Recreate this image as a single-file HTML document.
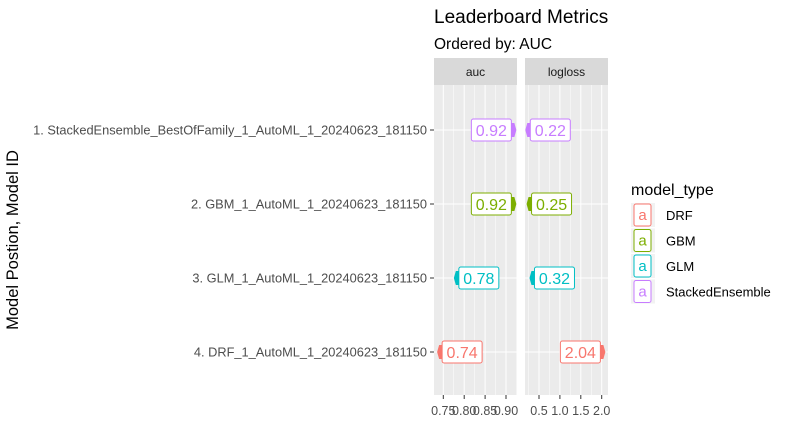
<!DOCTYPE html>
<html><head><meta charset="utf-8"><style>
body{margin:0;background:#fff;font-family:"Liberation Sans",Arial,sans-serif}
svg{display:block}
</style></head><body>
<svg id="c" width="787" height="446" font-family="Liberation Sans, Arial, sans-serif"></svg>
<script>
const models=["1. StackedEnsemble_BestOfFamily_1_AutoML_1_20240623_181150","2. GBM_1_AutoML_1_20240623_181150","3. GLM_1_AutoML_1_20240623_181150","4. DRF_1_AutoML_1_20240623_181150"];
const types=["StackedEnsemble","GBM","GLM","DRF"];
const aucVals=[0.92,0.92,0.78,0.74];
const loglossVals=[0.22,0.25,0.32,2.04];
const aucTicks=[0.75,0.80,0.85,0.90];
const aucTickLabels=["0.75","0.80","0.85","0.90"];
const llTicks=[0.5,1.0,1.5,2.0];
const llTickLabels=["0.5","1.0","1.5","2.0"];
const legendTypes=["DRF","GBM","GLM","StackedEnsemble"];
const colors={DRF:"#F8766D",GBM:"#7CAE00",GLM:"#00BFC4",StackedEnsemble:"#C77CFF"};
const NS="http://www.w3.org/2000/svg";
const svg=document.getElementById('c');
function mk(t,a,p){const e=document.createElementNS(NS,t);for(const k in a)e.setAttribute(k,a[k]);(p||svg).appendChild(e);return e;}
const plotTop=85,plotBot=395;
const rowY=i=>130+i*74;
const panels=[
 {name:"auc",x0:434,x1:517,vals:aucVals,ticks:aucTicks,tl:aucTickLabels,sx:v=>443.3+(v-0.75)/0.05*20.9,mid:0.83},
 {name:"logloss",x0:525,x1:608,vals:loglossVals,ticks:llTicks,tl:llTickLabels,sx:v=>539+(v-0.5)/0.5*20.9,mid:1.1}
];
let t=mk('text',{x:434,y:23,'font-size':19,fill:'#000'});t.textContent="Leaderboard Metrics";


t=mk('text',{x:434,y:49,'font-size':15.5,fill:'#000'});t.textContent="Ordered by: AUC";


t=mk('text',{x:18,y:240,'font-size':16.5,fill:'#000','text-anchor':'middle',transform:'rotate(-90 18 240)'});t.textContent="Model Postion, Model ID";


models.forEach((m,i)=>{
 const l=mk('text',{x:427,y:rowY(i)+4.5,'font-size':12.8,fill:'#4d4d4d','text-anchor':'end'});l.textContent=m;
 
 
 mk('line',{x1:430,x2:434,y1:rowY(i),y2:rowY(i),stroke:'#333','stroke-width':1});
});
panels.forEach(p=>{
 const g=mk('g',{});
 
 
 mk('rect',{x:p.x0,y:58,width:p.x1-p.x0,height:27,fill:'#d9d9d9'},g);
 const st=mk('text',{x:(p.x0+p.x1)/2,y:76,'font-size':12,fill:'#1a1a1a','text-anchor':'middle'},g);st.textContent=p.name;
 
 
 mk('rect',{x:p.x0,y:plotTop,width:p.x1-p.x0,height:plotBot-plotTop,fill:'#ebebeb'},g);
 const step=p.ticks[1]-p.ticks[0];
 for(let k=-1;k<p.ticks.length;k++){const xm=p.sx(p.ticks[0]+step*(k+0.5));if(xm>p.x0&&xm<p.x1)mk('line',{x1:xm,x2:xm,y1:plotTop,y2:plotBot,stroke:'#fff','stroke-width':0.5},g);}
 p.ticks.forEach((v,j)=>{const x=p.sx(v);mk('line',{x1:x,x2:x,y1:plotTop,y2:plotBot,stroke:'#fff','stroke-width':1},g);
  mk('line',{x1:x,x2:x,y1:plotBot,y2:plotBot+4,stroke:'#333'},g);
  const tl=mk('text',{x:x,y:415,'font-size':12.5,fill:'#4d4d4d','text-anchor':'middle'},g);tl.textContent=p.tl[j];
  
  });
 models.forEach((m,i)=>mk('line',{x1:p.x0,x2:p.x1,y1:rowY(i),y2:rowY(i),stroke:'#fff','stroke-width':1},g));
 p.vals.forEach((v,i)=>{
  const x=p.sx(v),y=rowY(i),c=colors[types[i]],left=v>p.mid;
  const w=40,h=22;
  const bx=left?x-w-3:x+3;
  const pt=mk('path',{d:left?`M${x-4},${y-7}L${x},${y-7}L${x+2},${y}L${x},${y+7}L${x-4},${y+7}Z`:`M${x+4},${y-7}L${x},${y-7}L${x-2},${y}L${x},${y+7}L${x+4},${y+7}Z`,fill:c},g);
  
  
  const r=mk('rect',{x:bx,y:y-h/2,width:w,height:h,rx:2,fill:'#fff',stroke:c,'stroke-width':1},g);
  
  
  const tx=mk('text',{x:bx+w/2,y:y+6,'font-size':16,fill:c,'text-anchor':'middle'},g);tx.textContent=v.toFixed(2);
  
  
 });
});
t=mk('text',{x:631,y:195,'font-size':16,fill:'#000'});t.textContent="model_type";


legendTypes.forEach((ty,i)=>{
 const y=203+i*25.5,c=colors[ty];
 const g=mk('g',{});
 
 
 mk('rect',{x:631,y:y,width:24,height:24,fill:'#f2f2f2'},g);
 mk('rect',{x:634,y:y+1,width:17,height:22,rx:2,fill:'#fff',stroke:c},g);
 const a=mk('text',{x:642.5,y:y+17,'font-size':15,fill:c,'text-anchor':'middle'},g);a.textContent="a";
 const l=mk('text',{x:666,y:y+17,'font-size':13,fill:'#000'},g);l.textContent=ty;
});
</script>
</body></html>
